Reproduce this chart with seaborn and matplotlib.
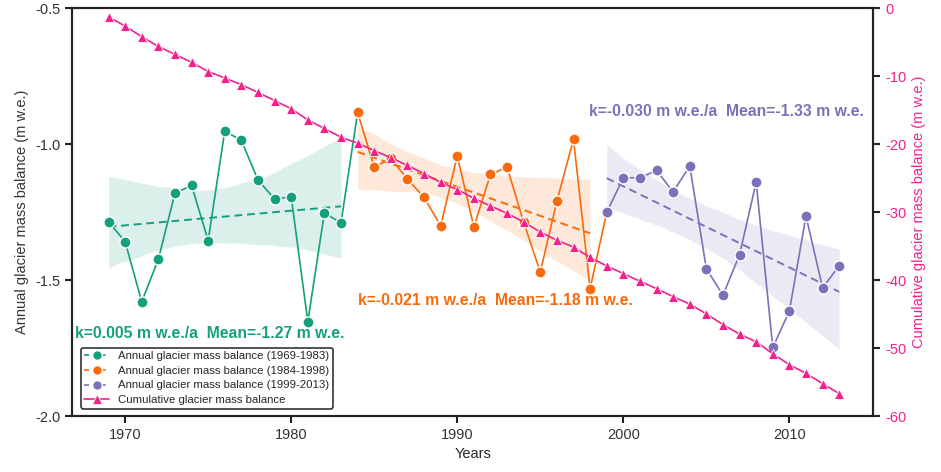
import numpy as np
import matplotlib
matplotlib.use('Agg')
import matplotlib.pyplot as plt
from matplotlib.lines import Line2D
import seaborn as sns

# data
years1 = list(range(1969, 1984))
bal1 = [-1.286, -1.359, -1.580, -1.424, -1.181, -1.152, -1.355, -0.952,
        -0.987, -1.132, -1.202, -1.194, -1.653, -1.253, -1.290]
years2 = list(range(1984, 1999))
bal2 = [-0.884, -1.085, -1.053, -1.129, -1.196, -1.301, -1.044, -1.305,
        -1.112, -1.085, -1.288, -1.471, -1.210, -0.983, -1.532]
years3 = list(range(1999, 2014))
bal3 = [-1.251, -1.124, -1.124, -1.097, -1.176, -1.081, -1.458, -1.556,
        -1.407, -1.140, -1.748, -1.614, -1.265, -1.529, -1.447]
years_cum = list(range(1969, 2014))
cum = [-1.29, -2.65, -4.23, -5.65, -6.83, -7.98, -9.34, -10.29, -11.28, -12.41,
       -13.61, -14.80, -16.46, -17.71, -19.00, -19.88, -20.97, -22.02, -23.15,
       -24.35, -25.65, -26.69, -28.00, -29.11, -30.19, -31.48, -32.95, -34.16,
       -35.15, -36.68, -37.93, -39.05, -40.18, -41.27, -42.45, -43.53, -44.99,
       -46.55, -47.95, -49.09, -50.84, -52.45, -53.72, -55.25, -56.70]

labels = ['Annual glacier mass balance (1969-1983)',
          'Annual glacier mass balance (1984-1998)',
          'Annual glacier mass balance (1999-2013)']
notes = ['k=0.005 m w.e./a  Mean=-1.27 m w.e.',
         'k=-0.021 m w.e./a  Mean=-1.18 m w.e.',
         'k=-0.030 m w.e./a  Mean=-1.33 m w.e.']
cum_label = 'Cumulative glacier mass balance'

colors = ['#15a07c', '#fa6a0a', '#7a72b8']
pink = '#f5218b'

sns.set_style('white')
plt.rcParams['font.family'] = ['Liberation Sans', 'DejaVu Sans']
plt.rcParams['axes.unicode_minus'] = False

fig = plt.figure(figsize=(9.41, 4.72), dpi=100)
ax = fig.add_axes([0.0765, 0.1186, 0.8515, 0.8644])

groups = [(years1, bal1), (years2, bal2), (years3, bal3)]
note_pos = [(1967.0, -1.695), (1984.0, -1.574), (1997.95, -0.882)]
for i, (yr, bal) in enumerate(groups):
    c = colors[i]
    sns.regplot(x=np.array(yr, dtype=float), y=np.array(bal), ax=ax, scatter=False,
                ci=95, seed=0, color=c,
                line_kws=dict(ls='--', lw=1.4, dashes=(4, 2.5)))
    # connect to first point of next period
    if i < 2:
        nyr, nbal = groups[i + 1]
        sns.lineplot(x=[yr[-1], nyr[0]], y=[bal[-1], nbal[0]], ax=ax, color=c, lw=1.2)
    sns.lineplot(x=yr, y=bal, ax=ax, color=c, lw=1.2, marker='o', markersize=8,
                 markeredgecolor='white', markeredgewidth=1.0)
    ax.text(note_pos[i][0], note_pos[i][1], notes[i], color=c, fontsize=11.3,
            fontweight='bold', va='center', ha='left')

ax.set_xlim(1966.8, 2015.05)
ax.set_ylim(-2.0, -0.5)
ax.set_xticks([1970, 1980, 1990, 2000, 2010])
ax.set_yticks([-2.0, -1.5, -1.0, -0.5])
ax.set_yticklabels(['-2.0', '-1.5', '-1.0', '-0.5'])
ax.set_xlabel('Years', fontsize=10.5)
ax.set_ylabel('Annual glacier mass balance (m w.e.)', fontsize=10.5, color='#333333')

ax2 = ax.twinx()
sns.lineplot(x=years_cum, y=cum, ax=ax2, color=pink, lw=1.2, marker='^',
             markersize=7.5, markeredgecolor='white', markeredgewidth=0.6)
ax2.set_ylim(-60, 0)
ax2.set_yticks(range(-60, 1, 10))
ax2.set_ylabel('Cumulative glacier mass balance (m w.e.)', fontsize=10.5, color=pink)

for a in (ax, ax2):
    for s in a.spines.values():
        s.set_linewidth(1.5)
        s.set_color('#222222')
    a.tick_params(direction='out', length=5, width=1.5, labelsize=10.5,
                  color='#222222', labelcolor='#333333')
ax.tick_params(bottom=True, left=True)
ax2.tick_params(axis='y', right=True, labelcolor=pink)

handles = [Line2D([], [], color=c, ls='--', dashes=(3, 2), lw=1.2, marker='o',
                  markersize=7, markeredgecolor='white') for c in colors]
handles.append(Line2D([], [], color=pink, lw=1.2, marker='^', markersize=7,
                      markeredgecolor='white', markeredgewidth=0.6))
leg = ax2.legend(handles, labels + [cum_label], loc='lower left',
                 bbox_to_anchor=(0.004, 0.004), fontsize=8.2, frameon=True,
                 fancybox=True, edgecolor='#333333', framealpha=1,
                 handlelength=2.2, borderpad=0.3, labelspacing=0.42)
leg.get_frame().set_linewidth(1.2)

fig.savefig('out.png', dpi=100)
